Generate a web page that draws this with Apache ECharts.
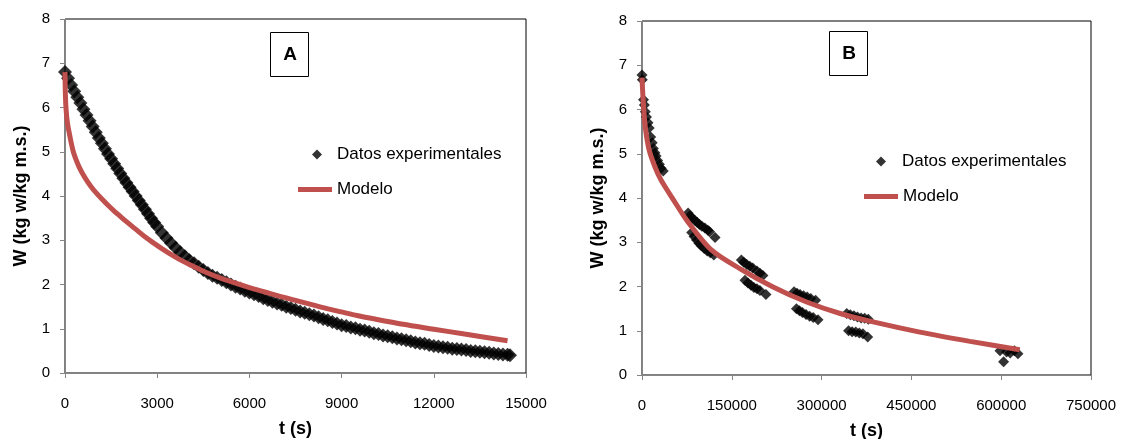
<!DOCTYPE html>
<html>
<head>
<meta charset="utf-8">
<script src="https://cdn.jsdelivr.net/npm/echarts/dist/echarts.min.js"></script>
<style>
  html, body { margin: 0; padding: 0; background: #fff; }
  #chart { width: 1127px; height: 439px; }
</style>
</head>
<body>
<div id="chart"></div>
<script>
    // panel A: short run, t up to 15000 s
    const expA = [
        [0, 6.80], [100, 6.66], [200, 6.51], [300, 6.37], [400, 6.23], [500, 6.10],
        [600, 5.96], [700, 5.83], [800, 5.70], [900, 5.57], [1000, 5.44], [1100, 5.31],
        [1200, 5.19], [1300, 5.07], [1400, 4.95], [1500, 4.84], [1600, 4.73], [1700, 4.62],
        [1800, 4.51], [1900, 4.40], [2000, 4.30], [2100, 4.20], [2200, 4.10], [2300, 4.00],
        [2400, 3.90], [2500, 3.80], [2600, 3.70], [2700, 3.60], [2800, 3.50], [2900, 3.40],
        [3000, 3.31], [3150, 3.17], [3300, 3.05], [3450, 2.94], [3600, 2.83], [3750, 2.73],
        [3900, 2.64], [4050, 2.55], [4200, 2.48], [4350, 2.40], [4500, 2.33], [4650, 2.26],
        [4800, 2.20], [4950, 2.15], [5100, 2.10], [5250, 2.05], [5400, 2.00], [5550, 1.95],
        [5700, 1.91], [5850, 1.86], [6000, 1.82], [6150, 1.78], [6300, 1.74], [6450, 1.69],
        [6600, 1.65], [6750, 1.61], [6900, 1.57], [7050, 1.54], [7200, 1.50], [7350, 1.47],
        [7500, 1.43], [7650, 1.39], [7800, 1.36], [7950, 1.33], [8100, 1.30], [8250, 1.26],
        [8400, 1.22], [8550, 1.19], [8700, 1.15], [8850, 1.12], [9000, 1.08], [9150, 1.06],
        [9300, 1.03], [9450, 1.01], [9600, 0.98], [9750, 0.96], [9900, 0.93], [10050, 0.90],
        [10200, 0.88], [10350, 0.85], [10500, 0.83], [10650, 0.81], [10800, 0.78], [10950, 0.76],
        [11100, 0.74], [11250, 0.72], [11400, 0.69], [11550, 0.67], [11700, 0.66], [11850, 0.63],
        [12000, 0.61], [12150, 0.60], [12300, 0.58], [12450, 0.57], [12600, 0.55], [12750, 0.54],
        [12900, 0.53], [13050, 0.52], [13200, 0.50], [13350, 0.49], [13500, 0.48], [13650, 0.47],
        [13800, 0.46], [13950, 0.44], [14100, 0.43], [14250, 0.42], [14400, 0.41], [14480, 0.40]
    ];
    const modelA = [
        [0, 6.80], [10, 6.35], [25, 6.08], [50, 5.83], [90, 5.60], [140, 5.42],
        [200, 5.21], [270, 5.00], [350, 4.84], [450, 4.67], [560, 4.52], [700, 4.36],
        [850, 4.21], [1000, 4.08], [1200, 3.93], [1400, 3.79], [1600, 3.66], [1800, 3.54],
        [2000, 3.42], [2300, 3.25], [2600, 3.08], [2900, 2.93], [3200, 2.79], [3500, 2.66],
        [3800, 2.54], [4200, 2.40], [4600, 2.27], [5000, 2.16], [5500, 2.04], [6000, 1.93],
        [6500, 1.83], [7000, 1.73], [7500, 1.64], [8000, 1.55], [8500, 1.46], [9000, 1.38],
        [9500, 1.30], [10000, 1.23], [11000, 1.10], [12000, 0.99], [13000, 0.88], [14400, 0.73]
    ];

    // panel B: long run, t up to 630000 s
    const expB = [
        [0, 6.78], [500, 6.67], [2500, 6.22], [4000, 6.10], [5500, 5.95], [7500, 5.83],
        [10000, 5.70], [12000, 5.58], [14500, 5.38], [17000, 5.25], [19000, 5.12], [21500, 5.02],
        [23500, 4.95], [26000, 4.85], [29000, 4.76], [32000, 4.67], [35500, 4.61],
        [77000, 3.66], [80000, 3.60], [84000, 3.55], [88000, 3.50], [92000, 3.45], [96000, 3.40],
        [100000, 3.36], [105000, 3.32], [110000, 3.27], [113000, 3.24], [122000, 3.11],
        [83000, 3.22], [87000, 3.13], [91000, 3.05], [95000, 2.98], [99000, 2.92], [104000, 2.86],
        [109000, 2.80], [114000, 2.76], [120000, 2.71],
        [166000, 2.60], [170000, 2.55], [175000, 2.50], [180000, 2.46], [185000, 2.42], [192000, 2.35],
        [197000, 2.30], [202000, 2.25],
        [172000, 2.14], [177000, 2.08], [182000, 2.03], [187000, 1.98], [192000, 1.95], [197000, 1.91],
        [207000, 1.82],
        [254000, 1.88], [259000, 1.85], [264000, 1.82], [270000, 1.79], [276000, 1.76], [282000, 1.73],
        [290000, 1.69],
        [258000, 1.50], [263000, 1.45], [268000, 1.41], [274000, 1.37], [280000, 1.33], [286000, 1.30],
        [294000, 1.25],
        [342000, 1.39], [348000, 1.36], [354000, 1.34], [360000, 1.31], [366000, 1.29], [372000, 1.28],
        [378000, 1.26],
        [345000, 1.00], [351000, 0.98], [357000, 0.97], [363000, 0.95], [369000, 0.93], [377000, 0.86],
        [598000, 0.55], [604000, 0.30], [609000, 0.52], [615000, 0.50], [622000, 0.55], [628000, 0.48]
    ];
    const modelB = [
        [0, 6.72], [2000, 6.20], [5500, 5.60], [12000, 5.08], [21700, 4.70], [32000, 4.40],
        [52000, 3.97], [74600, 3.50], [116400, 2.82], [164000, 2.40], [219000, 1.99], [275000, 1.65],
        [331000, 1.39], [386000, 1.20], [464000, 0.97], [548000, 0.76], [631000, 0.57]
    ];

    const xRangeA = [0, 15000, 3000];
    const xRangeB = [0, 750000, 150000];
    const yRange = [0, 8, 1];
    const seriesNames = ['Datos experimentales', 'Modelo'];
    const xTitle = 't (s)';
    const yTitle = 'W (kg w/kg m.s.)';

    const FONT = 'Liberation Sans, Arial, sans-serif';
    const RED = '#C0504D';
    const GREY = '#868686';

    function xAxis(gridIndex, range) {
        return {
            type: 'value', gridIndex: gridIndex,
            min: range[0], max: range[1], interval: range[2],
            name: xTitle, nameLocation: 'middle', nameGap: 47,
            nameTextStyle: { fontFamily: FONT, fontWeight: 'bold', fontSize: 18, color: '#000' },
            axisLine: { lineStyle: { color: GREY, width: 1 } },
            axisTick: { show: true, inside: false, length: 5, lineStyle: { color: GREY } },
            axisLabel: { margin: 23, fontFamily: FONT, fontSize: 15, color: '#000', formatter: v => String(v) },
            splitLine: { show: false }
        };
    }

    function yAxis(gridIndex) {
        return {
            type: 'value', gridIndex: gridIndex,
            min: yRange[0], max: yRange[1], interval: yRange[2],
            name: yTitle, nameLocation: 'middle', nameRotate: 90, nameGap: 35,
            nameTextStyle: { fontFamily: FONT, fontWeight: 'bold', fontSize: 18, color: '#000' },
            axisLine: { show: true, lineStyle: { color: GREY, width: 1 } },
            axisTick: { show: true, inside: false, length: 5, lineStyle: { color: GREY } },
            axisLabel: { margin: 15, fontFamily: FONT, fontSize: 15, color: '#000' },
            splitLine: { show: false }
        };
    }

    // one legend per item so the diamond and the line can have their own sizes
    function legendItem(name, icon, left, top, w, h, textPad) {
        return {
            left: left, top: top, padding: 0,
            itemWidth: w, itemHeight: h,
            data: [{ name: name, icon: icon }],
            textStyle: { fontFamily: FONT, fontSize: 17, color: '#000', padding: [0, 0, 0, textPad] },
            selectedMode: false
        };
    }

    function panelLabel(cx, cy, text) {
        return [
            { type: 'rect', shape: { x: cx - 19.5, y: cy - 22.5, width: 38, height: 44 },
              style: { fill: '#fff', stroke: '#000', lineWidth: 1 } },
            { type: 'text', x: cx, y: cy,
              style: { text: text, fontFamily: FONT, fontWeight: 'bold', fontSize: 19,
                       fill: '#000', align: 'center', verticalAlign: 'middle' } }
        ];
    }

    const LINE_ICON = 'path://M0,0 L34,0 L34,5 L0,5 Z';

    const option = {
        backgroundColor: '#fff',
        animation: false,
        grid: [
            { left: 65, top: 19, width: 461, height: 354, show: true, borderColor: '#000', borderWidth: 1,
              outerBoundsMode: 'none' },
            { left: 642, top: 21, width: 449, height: 354, show: true, borderColor: '#000', borderWidth: 1,
              outerBoundsMode: 'none' }
        ],
        xAxis: [xAxis(0, xRangeA), xAxis(1, xRangeB)],
        yAxis: [yAxis(0), yAxis(1)],
        legend: [
            legendItem(seriesNames[0], 'diamond', 312, 146, 10, 10, 10),
            legendItem(seriesNames[1], LINE_ICON, 298, 181, 34, 5, 0),
            legendItem(seriesNames[0], 'diamond', 876, 153, 10, 10, 11),
            legendItem(seriesNames[1], LINE_ICON, 864, 188, 34, 5, 0)
        ],
        graphic: panelLabel(290, 55, 'A').concat(panelLabel(849, 54, 'B')),
        series: [
            {
                name: seriesNames[0], type: 'scatter', xAxisIndex: 0, yAxisIndex: 0,
                data: expA, symbol: 'diamond', symbolSize: 14,
                itemStyle: { color: '#000' }
            },
            {
                name: seriesNames[1], type: 'line', xAxisIndex: 0, yAxisIndex: 0,
                data: modelA, smooth: 0.3, showSymbol: false,
                lineStyle: { color: RED, width: 5 }, itemStyle: { color: RED }
            },
            {
                name: seriesNames[0], type: 'scatter', xAxisIndex: 1, yAxisIndex: 1,
                data: expB, symbol: 'diamond', symbolSize: 11,
                itemStyle: { color: '#000' }
            },
            {
                name: seriesNames[1], type: 'line', xAxisIndex: 1, yAxisIndex: 1,
                data: modelB, smooth: 0.3, showSymbol: false,
                lineStyle: { color: RED, width: 5 }, itemStyle: { color: RED }
            }
        ]
    };

    const mychart = echarts.init(document.getElementById('chart'));
    mychart.setOption(option);
</script>
</body>
</html>
